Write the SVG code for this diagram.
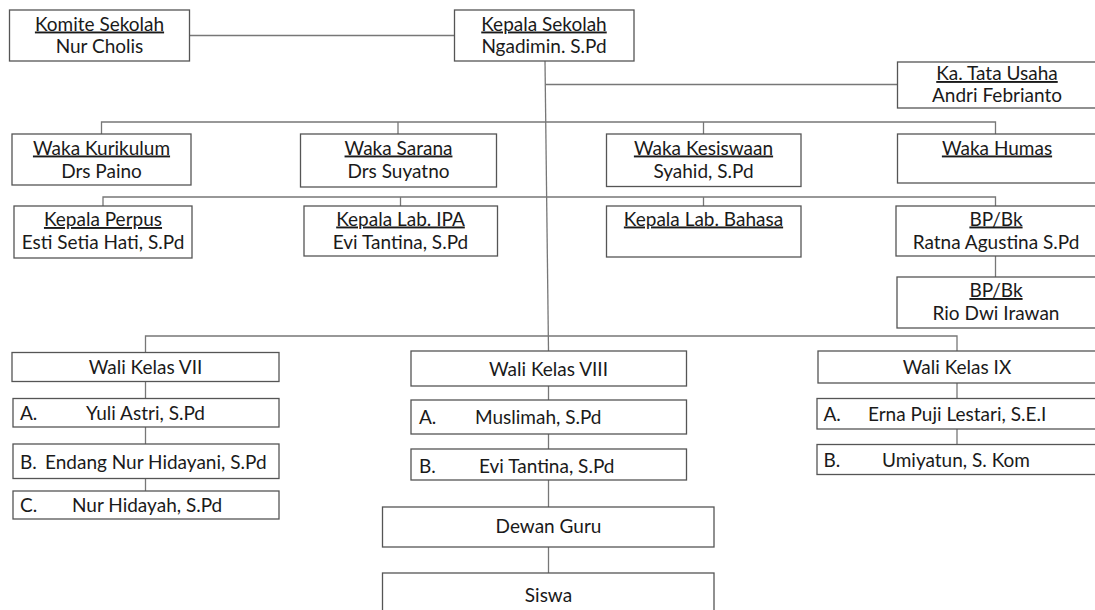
<svg xmlns="http://www.w3.org/2000/svg" width="1095" height="610" viewBox="0 0 1095 610">
<style>
  .box { fill: #ffffff; stroke: #555555; stroke-width: 1.3; }
  .ln { fill: none; stroke: #777777; stroke-width: 1.3; }
  text { font-family: Lato, "Open Sans", "Liberation Sans", sans-serif; font-size: 19px; fill: #1a1a1a; }
  .c { text-anchor: middle; }
  .u { text-decoration: underline; }
</style>
<rect x="0" y="0" width="1095" height="610" fill="#ffffff"/>
<g id="connectors">
  <line class="ln" x1="189.5" y1="35.5" x2="454.5" y2="35.5"/>
  <line class="ln" x1="545" y1="61" x2="548.5" y2="351"/>
  <line class="ln" x1="545.5" y1="84.5" x2="897.5" y2="84.5"/>
  <polyline class="ln" points="101.5,134 101.5,122 995.5,122 995.5,134"/>
  <line class="ln" x1="398" y1="122" x2="398" y2="134"/>
  <line class="ln" x1="703.5" y1="122" x2="703.5" y2="134"/>
  <polyline class="ln" points="103,206 103,197 995.5,197 995.5,206"/>
  <line class="ln" x1="400.5" y1="197" x2="400.5" y2="206"/>
  <line class="ln" x1="703.5" y1="197" x2="703.5" y2="206"/>
  <line class="ln" x1="995.5" y1="256" x2="995.5" y2="277"/>
  <polyline class="ln" points="145.5,352.5 145.5,336 957,336 957,351"/>
  <line class="ln" x1="145.5" y1="381.5" x2="145.5" y2="398.5"/>
  <line class="ln" x1="145.5" y1="427" x2="145.5" y2="444"/>
  <line class="ln" x1="145.5" y1="478.5" x2="145.5" y2="491"/>
  <line class="ln" x1="548.5" y1="386" x2="548.5" y2="400"/>
  <line class="ln" x1="548.5" y1="434" x2="548.5" y2="449"/>
  <line class="ln" x1="548.5" y1="480" x2="548.5" y2="507"/>
  <line class="ln" x1="548.5" y1="547" x2="548.5" y2="573"/>
  <line class="ln" x1="957" y1="383" x2="957" y2="398.5"/>
  <line class="ln" x1="957" y1="429" x2="957" y2="444.5"/>
</g>
<g id="komite">
  <rect class="box" x="9.5" y="10" width="180" height="51"/>
  <text class="c u" x="99.5" y="30.5">Komite Sekolah</text>
  <text class="c" x="99.5" y="53">Nur Cholis</text>
</g>
<g id="kepala">
  <rect class="box" x="454.5" y="10" width="179.5" height="51"/>
  <text class="c u" x="544" y="30.5">Kepala Sekolah</text>
  <text class="c" x="544" y="53">Ngadimin. S.Pd</text>
</g>
<g id="tata-usaha">
  <rect class="box" x="897.5" y="62" width="200" height="46"/>
  <text class="c u" x="997" y="80">Ka. Tata Usaha</text>
  <text class="c" x="997" y="102">Andri Febrianto</text>
</g>
<g id="waka-kurikulum">
  <rect class="box" x="12" y="134" width="179" height="51"/>
  <text class="c u" x="101.5" y="154.5">Waka Kurikulum</text>
  <text class="c" x="101.5" y="177.5">Drs Paino</text>
</g>
<g id="waka-sarana">
  <rect class="box" x="300.5" y="134" width="196" height="53"/>
  <text class="c u" x="398.5" y="154.5">Waka Sarana</text>
  <text class="c" x="398.5" y="177.5">Drs Suyatno</text>
</g>
<g id="waka-kesiswaan">
  <rect class="box" x="606.5" y="134" width="194.5" height="52.5"/>
  <text class="c u" x="703.5" y="154.5">Waka Kesiswaan</text>
  <text class="c" x="703.5" y="177.5">Syahid, S.Pd</text>
</g>
<g id="waka-humas">
  <rect class="box" x="897.5" y="134" width="200" height="49"/>
  <text class="c u" x="997" y="154.5">Waka Humas</text>
</g>
<g id="kepala-perpus">
  <rect class="box" x="14" y="206" width="178" height="52"/>
  <text class="c u" x="103" y="226">Kepala Perpus</text>
  <text class="c" x="103" y="249">Esti Setia Hati, S.Pd</text>
</g>
<g id="lab-ipa">
  <rect class="box" x="304" y="206" width="193.5" height="50"/>
  <text class="c u" x="400.5" y="225.5">Kepala Lab. IPA</text>
  <text class="c" x="400.5" y="248.5">Evi Tantina, S.Pd</text>
</g>
<g id="lab-bahasa">
  <rect class="box" x="606.5" y="206" width="194.5" height="51"/>
  <text class="c u" x="703.5" y="225.5">Kepala Lab. Bahasa</text>
</g>
<g id="bpbk-ratna">
  <rect class="box" x="896" y="206" width="201" height="50"/>
  <text class="c u" x="996" y="225.5">BP/Bk</text>
  <text class="c" x="996" y="248.5">Ratna Agustina S.Pd</text>
</g>
<g id="bpbk-rio">
  <rect class="box" x="897" y="277" width="200" height="51"/>
  <text class="c u" x="996" y="297">BP/Bk</text>
  <text class="c" x="996" y="320">Rio Dwi Irawan</text>
</g>
<g id="wali-vii">
  <rect class="box" x="12" y="352.5" width="267" height="29"/>
  <text class="c" x="145.5" y="374">Wali Kelas VII</text>
</g>
<g id="wali-vii-a">
  <rect class="box" x="13" y="398.5" width="266" height="28.5"/>
  <text x="20" y="419.5">A.</text>
  <text x="86" y="419.5">Yuli Astri, S.Pd</text>
</g>
<g id="wali-vii-b">
  <rect class="box" x="13" y="444" width="266" height="34.5"/>
  <text x="20" y="468.5">B.</text>
  <text x="45" y="468.5">Endang Nur Hidayani, S.Pd</text>
</g>
<g id="wali-vii-c">
  <rect class="box" x="13" y="491" width="266" height="28"/>
  <text x="20" y="512">C.</text>
  <text x="72" y="512">Nur Hidayah, S.Pd</text>
</g>
<g id="wali-viii">
  <rect class="box" x="411" y="351" width="275.5" height="35"/>
  <text class="c" x="548.5" y="376">Wali Kelas VIII</text>
</g>
<g id="wali-viii-a">
  <rect class="box" x="411" y="400" width="275.5" height="34"/>
  <text x="419" y="424">A.</text>
  <text x="475" y="424">Muslimah, S.Pd</text>
</g>
<g id="wali-viii-b">
  <rect class="box" x="411" y="449" width="275.5" height="31"/>
  <text x="419" y="472.5">B.</text>
  <text x="479" y="472.5">Evi Tantina, S.Pd</text>
</g>
<g id="dewan-guru">
  <rect class="box" x="382.5" y="507" width="331.5" height="40"/>
  <text class="c" x="548.5" y="533">Dewan Guru</text>
</g>
<g id="siswa">
  <rect class="box" x="382.5" y="573" width="331.5" height="50"/>
  <text class="c" x="548.5" y="601.5">Siswa</text>
</g>
<g id="wali-ix">
  <rect class="box" x="818" y="351" width="280" height="32"/>
  <text class="c" x="957" y="374">Wali Kelas IX</text>
</g>
<g id="wali-ix-a">
  <rect class="box" x="817" y="398.5" width="281" height="30.5"/>
  <text x="823.5" y="421">A.</text>
  <text x="868" y="421">Erna Puji Lestari, S.E.I</text>
</g>
<g id="wali-ix-b">
  <rect class="box" x="817" y="444.5" width="281" height="30"/>
  <text x="823.5" y="467">B.</text>
  <text x="882" y="467">Umiyatun, S. Kom</text>
</g>
</svg>
